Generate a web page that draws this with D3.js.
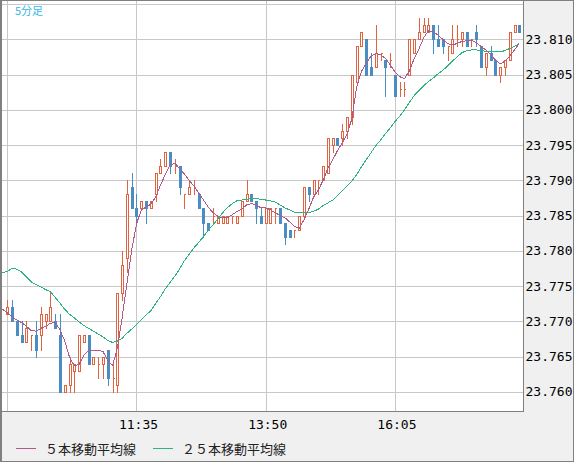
<!DOCTYPE html>
<html>
<head>
<meta charset="utf-8">
<script src="https://cdn.jsdelivr.net/npm/d3@7"></script>
<style>
body { margin: 0; background: #f0f0f0; }
svg { display: block; }
</style>
</head>
<body>
<div id="main_div"></div>
<script>
// 5 minute bars, 09:20 -> 18:15
var opens = [23.771,23.772,23.770,23.768,23.767,23.768,23.768,23.768,23.770,23.770,
  23.770,23.768,23.760,23.761,23.763,23.763,23.767,23.768,23.764,23.764,
  23.764,23.766,23.762,23.761,23.774,23.779,23.789,23.786,23.786,23.787,
  23.786,23.788,23.791,23.792,23.794,23.792,23.792,23.788,23.788,23.789,
  23.788,23.786,23.784,23.785,23.784,23.784,23.784,23.785,23.784,23.785,
  23.787,23.788,23.787,23.785,23.784,23.784,23.786,23.786,23.784,23.783,
  23.783,23.783,23.785,23.789,23.788,23.790,23.790,23.791,23.795,23.796,
  23.796,23.797,23.799,23.804,23.809,23.810,23.806,23.806,23.808,23.807,
  23.807,23.805,23.803,23.803,23.805,23.808,23.810,23.811,23.811,23.812,
  23.810,23.810,23.809,23.808,23.810,23.810,23.811,23.810,23.811,23.809,
  23.806,23.808,23.807,23.805,23.806,23.807,23.811,23.812];
var highs = [23.773,23.773,23.770,23.770,23.770,23.768,23.770,23.772,23.771,23.774,
  23.771,23.771,23.761,23.765,23.764,23.768,23.768,23.768,23.765,23.765,
  23.765,23.766,23.764,23.774,23.780,23.790,23.791,23.788,23.787,23.787,
  23.787,23.791,23.793,23.794,23.794,23.793,23.792,23.788,23.790,23.790,
  23.788,23.786,23.784,23.786,23.785,23.785,23.785,23.785,23.785,23.787,
  23.790,23.788,23.787,23.786,23.786,23.786,23.786,23.786,23.784,23.783,
  23.783,23.785,23.789,23.789,23.790,23.790,23.792,23.796,23.796,23.796,
  23.798,23.799,23.805,23.809,23.811,23.810,23.808,23.812,23.808,23.807,
  23.808,23.805,23.804,23.804,23.810,23.810,23.813,23.813,23.813,23.812,
  23.812,23.810,23.809,23.812,23.812,23.811,23.811,23.810,23.812,23.809,
  23.808,23.809,23.807,23.806,23.807,23.811,23.812,23.812];
var lows = [23.771,23.770,23.768,23.767,23.767,23.766,23.765,23.766,23.769,23.770,
  23.769,23.760,23.760,23.760,23.760,23.763,23.767,23.764,23.764,23.762,
  23.762,23.761,23.760,23.760,23.773,23.777,23.786,23.784,23.786,23.784,
  23.786,23.787,23.791,23.792,23.791,23.791,23.788,23.786,23.788,23.788,
  23.786,23.782,23.783,23.784,23.784,23.784,23.784,23.784,23.784,23.785,
  23.787,23.787,23.784,23.784,23.784,23.784,23.784,23.784,23.781,23.782,
  23.782,23.783,23.785,23.787,23.788,23.788,23.790,23.791,23.794,23.795,
  23.795,23.796,23.798,23.804,23.809,23.805,23.805,23.806,23.807,23.802,
  23.806,23.802,23.802,23.802,23.805,23.808,23.810,23.811,23.811,23.808,
  23.809,23.808,23.807,23.808,23.809,23.809,23.809,23.809,23.809,23.806,
  23.805,23.807,23.805,23.804,23.805,23.807,23.811,23.811];
var closes = [23.772,23.770,23.768,23.767,23.769,23.768,23.766,23.771,23.771,23.772,
  23.769,23.760,23.761,23.764,23.764,23.768,23.768,23.764,23.765,23.764,
  23.765,23.762,23.762,23.774,23.778,23.788,23.786,23.785,23.787,23.786,
  23.787,23.791,23.792,23.794,23.792,23.792,23.789,23.788,23.789,23.789,
  23.786,23.784,23.783,23.785,23.785,23.785,23.785,23.785,23.785,23.787,
  23.788,23.787,23.786,23.784,23.786,23.786,23.786,23.784,23.782,23.782,
  23.783,23.785,23.789,23.788,23.790,23.790,23.792,23.796,23.796,23.795,
  23.797,23.799,23.805,23.809,23.811,23.805,23.805,23.808,23.808,23.806,
  23.807,23.802,23.803,23.803,23.810,23.810,23.811,23.812,23.812,23.810,
  23.809,23.809,23.809,23.810,23.810,23.811,23.809,23.810,23.810,23.806,
  23.808,23.807,23.805,23.806,23.807,23.811,23.812,23.811];

// moving averages, first value is the bar before the first candle
var ma5 = [23.7717,23.7712,23.7706,23.7702,23.7698,23.7693,23.7687,23.7686,23.7690,23.7693,
  23.7697,23.7699,23.7688,23.7672,23.7649,23.7637,23.7639,23.7652,23.7659,23.7659,
  23.7659,23.7657,23.7645,23.7637,23.7662,23.7705,23.7754,23.7801,23.7838,23.7858,
  23.7862,23.7866,23.7876,23.7893,23.7908,23.7922,23.7924,23.7917,23.7909,23.7900,
  23.7892,23.7882,23.7872,23.7862,23.7854,23.7849,23.7847,23.7847,23.7851,23.7856,
  23.7859,23.7865,23.7867,23.7865,23.7861,23.7861,23.7858,23.7854,23.7850,23.7847,
  23.7841,23.7835,23.7832,23.7844,23.7859,23.7876,23.7886,23.7900,23.7917,23.7929,
  23.7942,23.7953,23.7966,23.7987,23.8032,23.8054,23.8066,23.8076,23.8080,23.8078,
  23.8073,23.8064,23.8054,23.8047,23.8044,23.8055,23.8072,23.8086,23.8102,23.8112,
  23.8111,23.8106,23.8100,23.8094,23.8092,23.8094,23.8097,23.8098,23.8099,23.8095,
  23.8090,23.8085,23.8078,23.8071,23.8065,23.8069,23.8076,23.8085,23.8094];
var ma25 = [23.7769,23.7771,23.7775,23.7774,23.7770,23.7763,23.7756,23.7752,23.7749,23.7745,
  23.7742,23.7734,23.7726,23.7717,23.7710,23.7705,23.7699,23.7694,23.7690,23.7686,
  23.7682,23.7678,23.7673,23.7670,23.7672,23.7676,23.7683,23.7689,23.7695,23.7702,
  23.7709,23.7715,23.7725,23.7735,23.7746,23.7755,23.7764,23.7774,23.7786,23.7795,
  23.7804,23.7812,23.7820,23.7829,23.7837,23.7845,23.7854,23.7861,23.7867,23.7871,
  23.7872,23.7873,23.7874,23.7874,23.7873,23.7872,23.7871,23.7869,23.7865,23.7861,
  23.7858,23.7855,23.7854,23.7854,23.7854,23.7856,23.7859,23.7864,23.7868,23.7872,
  23.7878,23.7885,23.7892,23.7899,23.7908,23.7919,23.7929,23.7939,23.7949,23.7957,
  23.7966,23.7974,23.7983,23.7991,23.8000,23.8010,23.8020,23.8027,23.8034,23.8040,
  23.8045,23.8051,23.8056,23.8062,23.8069,23.8075,23.8081,23.8084,23.8085,23.8085,
  23.8084,23.8083,23.8082,23.8082,23.8082,23.8084,23.8087,23.8090,23.8094];

var gridBars = [0, 27, 54, 81];
var timeBars = [27, 54, 81];
var timeLabels = ["11:35", "13:50", "16:05"];
var priceTicks = [23.760, 23.765, 23.770, 23.775, 23.780, 23.785, 23.790, 23.795, 23.800, 23.805, 23.810, 23.815];
var labelTicks = [23.760, 23.765, 23.770, 23.775, 23.780, 23.785, 23.790, 23.795, 23.800, 23.805, 23.810];

var W = 574, H = 462;
var plotL = 2, plotR = 523, plotT = 1, plotB = 411;
var upColor = "#e0643f", downColor = "#4a8cc4";
var ma5Color = "#b05a8c", ma25Color = "#2db37c";

var x_scale = d3.scaleLinear().domain([0, 107]).range([7.3, 519.3]);
var y_scale = d3.scaleLinear().domain([23.760, 23.810]).range([391.8, 39.3]);

var svg = d3.select("#main_div").append("svg").attr("width", W).attr("height", H);
svg.append("rect").attr("width", W).attr("height", H).attr("fill", "#f0f0f0");
svg.append("rect").attr("x", plotL).attr("y", plotT)
    .attr("width", plotR - plotL).attr("height", plotB - plotT).attr("fill", "#fff");

svg.append("clipPath").attr("id", "plotclip").append("rect")
    .attr("x", plotL).attr("y", plotT).attr("width", plotR - plotL).attr("height", plotB - plotT);

// grid
var g_gy = svg.append("g").attr("transform", "translate(" + plotR + ",0)")
    .call(d3.axisRight(y_scale).tickValues(priceTicks).tickSize(-(plotR - plotL)).tickFormat(""));
var g_gx = svg.append("g").attr("transform", "translate(0," + plotB + ")")
    .call(d3.axisBottom(x_scale).tickValues(gridBars).tickSize(-(plotB - plotT)).tickFormat(""));
[g_gy, g_gx].forEach(function(g) {
    g.select(".domain").remove();
    g.selectAll("line").attr("stroke", "#c8c8c8").attr("shape-rendering", "crispEdges");
});

// candles
var plot = svg.append("g").attr("clip-path", "url(#plotclip)");
var bars = d3.range(opens.length).map(function(i) {
    return {i: i, o: opens[i], h: highs[i], l: lows[i], c: closes[i]};
});
var enter_c = plot.append("g").selectAll("g").data(bars).enter().append("g");
enter_c.append("line")
    .attr("x1", function(d) { return Math.round(x_scale(d.i)) + 0.5; })
    .attr("x2", function(d) { return Math.round(x_scale(d.i)) + 0.5; })
    .attr("y1", function(d) { return Math.round(y_scale(d.h)); })
    .attr("y2", function(d) { return Math.round(y_scale(d.l)) + 1; })
    .attr("stroke", function(d) { return d.c >= d.o ? upColor : downColor; })
    .attr("shape-rendering", "crispEdges");
enter_c.append("path")
    .attr("d", function(d) {
        var px = Math.round(x_scale(d.i));
        var top = Math.round(y_scale(Math.max(d.o, d.c)));
        var bot = Math.round(y_scale(Math.min(d.o, d.c)));
        if (d.c >= d.o) {
            return "M" + (px - 0.5) + "," + (top + 0.5) + "H" + (px + 1.5) + "V" + (bot + 0.5) + "H" + (px - 0.5) + "Z";
        }
        return "M" + (px - 1) + "," + top + "H" + (px + 2) + "V" + (bot + 1) + "H" + (px - 1) + "Z";
    })
    .attr("fill", function(d) { return d.c >= d.o ? "#fff" : downColor; })
    .attr("stroke", function(d) { return d.c >= d.o ? upColor : "none"; })
    .attr("shape-rendering", "crispEdges");

// moving averages
var maLine = d3.line()
    .x(function(d, k) { return x_scale(k - 1); })
    .y(function(d) { return y_scale(d); });
plot.append("path").attr("d", maLine(ma25)).attr("fill", "none")
    .attr("stroke", ma25Color).attr("stroke-width", 1).attr("shape-rendering", "crispEdges");
plot.append("path").attr("d", maLine(ma5)).attr("fill", "none")
    .attr("stroke", ma5Color).attr("stroke-width", 1).attr("shape-rendering", "crispEdges");

// borders
svg.append("line").attr("x1", plotR + 0.5).attr("x2", plotR + 0.5).attr("y1", 0).attr("y2", plotB + 1)
    .attr("stroke", "#808080");
svg.append("line").attr("x1", 0).attr("x2", plotR + 1).attr("y1", plotB + 0.5).attr("y2", plotB + 0.5)
    .attr("stroke", "#808080");
svg.append("rect").attr("x", 0.5).attr("y", 0.5).attr("width", W - 1).attr("height", H - 1)
    .attr("fill", "none").attr("stroke", "#808080");
svg.append("line").attr("x1", 1.5).attr("x2", 1.5).attr("y1", 0).attr("y2", H)
    .attr("stroke", "#808080");

// axis labels
var g_y = svg.append("g").attr("transform", "translate(" + plotR + ",0)")
    .call(d3.axisRight(y_scale).tickValues(labelTicks).tickSize(0).tickPadding(2.5)
        .tickFormat(d3.format(".3f")));
var g_x = svg.append("g").attr("transform", "translate(0," + plotB + ")")
    .call(d3.axisBottom(x_scale).tickValues(timeBars).tickSize(0).tickPadding(9)
        .tickFormat(function(d) { return timeLabels[timeBars.indexOf(d)]; }));
[g_y, g_x].forEach(function(g) {
    g.select(".domain").remove();
    g.selectAll("text").attr("fill", "#000")
        .style("font-family", "'DejaVu Sans Mono', monospace").style("font-size", "13px");
});
g_x.selectAll("text").attr("dx", 1.5);

// title and legend
svg.append("text").attr("x", 15).attr("y", 10).attr("dominant-baseline", "central")
    .attr("fill", "#38b6e8").style("font-family", "'Noto Sans CJK JP', sans-serif")
    .style("font-size", "11px").text("5分足");

var legend = [
    {label: "５本移動平均線", color: ma5Color, x: 16},
    {label: "２５本移動平均線", color: ma25Color, x: 153}
];
var lg = svg.append("g").selectAll("g").data(legend).enter().append("g");
lg.append("line")
    .attr("x1", function(d) { return d.x; }).attr("x2", function(d) { return d.x + 20; })
    .attr("y1", 448.5).attr("y2", 448.5).attr("stroke", function(d) { return d.color; });
lg.append("text")
    .attr("x", function(d) { return d.x + 29; }).attr("y", 448).attr("dominant-baseline", "central")
    .attr("fill", "#222").style("font-family", "'Noto Sans CJK JP', sans-serif")
    .style("font-size", "13px").text(function(d) { return d.label; });
</script>
</body>
</html>
